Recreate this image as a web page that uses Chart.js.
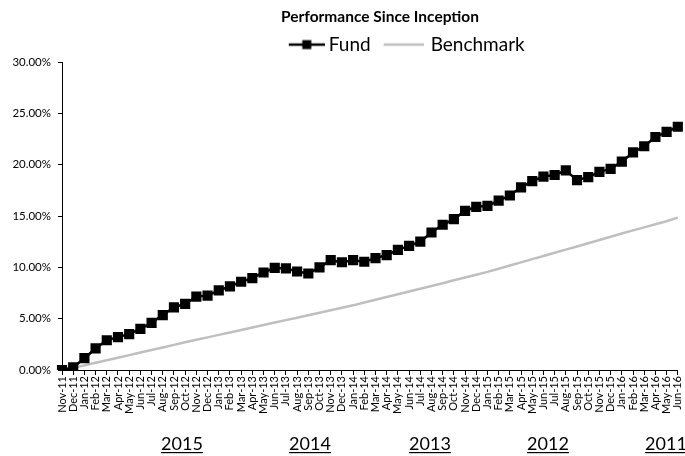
<!DOCTYPE html>
<html>
<head>
<meta charset="utf-8">
<script src="https://cdn.jsdelivr.net/npm/chart.js@4/dist/chart.umd.min.js"></script>
<style>
  html, body { margin: 0; padding: 0; background: #fff; overflow: hidden; }
  #wrap { position: relative; width: 685px; height: 456px; }
</style>
</head>
<body>
<div id="wrap"><canvas id="c"></canvas></div>
<script>
// ---- data ----
const categories = [
  'Nov-11','Dec-11',
  'Jan-12','Feb-12','Mar-12','Apr-12','May-12','Jun-12','Jul-12','Aug-12','Sep-12','Oct-12','Nov-12','Dec-12',
  'Jan-13','Feb-13','Mar-13','Apr-13','May-13','Jun-13','Jul-13','Aug-13','Sep-13','Oct-13','Nov-13','Dec-13',
  'Jan-14','Feb-14','Mar-14','Apr-14','May-14','Jun-14','Jul-14','Aug-14','Sep-14','Oct-14','Nov-14','Dec-14',
  'Jan-15','Feb-15','Mar-15','Apr-15','May-15','Jun-15','Jul-15','Aug-15','Sep-15','Oct-15','Nov-15','Dec-15',
  'Jan-16','Feb-16','Mar-16','Apr-16','May-16','Jun-16'
];
const fundValues = [
  0.00, 0.25,
  1.15, 2.10, 2.90, 3.20, 3.50, 4.00, 4.60, 5.35, 6.10, 6.45, 7.15, 7.25,
  7.75, 8.15, 8.60, 8.95, 9.50, 9.95, 9.90, 9.60, 9.40, 10.00, 10.70, 10.50,
  10.70, 10.55, 10.90, 11.20, 11.70, 12.10, 12.50, 13.40, 14.15, 14.70, 15.50, 15.90,
  16.00, 16.50, 17.00, 17.80, 18.40, 18.85, 19.00, 19.45, 18.50, 18.80, 19.30, 19.60,
  20.30, 21.20, 21.80, 22.70, 23.20, 23.70
];
const benchmarkValues = [
  0.00, 0.22,
  0.45, 0.70, 0.95, 1.20, 1.45, 1.70, 1.95, 2.20, 2.45, 2.70, 2.95, 3.18,
  3.42, 3.66, 3.90, 4.14, 4.38, 4.62, 4.86, 5.10, 5.34, 5.58, 5.82, 6.06,
  6.30, 6.57, 6.84, 7.11, 7.38, 7.65, 7.92, 8.19, 8.46, 8.74, 9.01, 9.28,
  9.56, 9.87, 10.18, 10.49, 10.80, 11.11, 11.42, 11.73, 12.04, 12.35, 12.66, 12.98,
  13.30, 13.60, 13.90, 14.20, 14.50, 14.85
];
const yTicks = [0, 5, 10, 15, 20, 25, 30];
const yearLabels = ['2015', '2014', '2013', '2012', '2011'];
const seriesNames = ['Fund', 'Benchmark'];
const chartTitle = 'Performance Since Inception';

// ---- styling helpers ----
const FONT = 'Lato, "Open Sans", sans-serif';
const FUND_COLOR = '#000000';
const BENCH_COLOR = '#BFBFBF';
const LEGEND_BOX_W = 44;

// legend symbol images (drawn centred on a LEGEND_BOX_W wide box)
function legendImage(w, lineFrom, color, withMarker) {
  const h = 14;
  const c = document.createElement('canvas');
  c.width = w; c.height = h;
  const g = c.getContext('2d');
  g.strokeStyle = color;
  g.lineWidth = 2.5;
  g.beginPath();
  g.moveTo(lineFrom, h / 2);
  g.lineTo(w, h / 2);
  g.stroke();
  if (withMarker) {
    g.fillStyle = color;
    const cx = (lineFrom + w) / 2;
    g.fillRect(cx - 4.5, h / 2 - 4.5, 9, 9);
  }
  return c;
}
const fundLegendImg = legendImage(55, 19, FUND_COLOR, true);
const benchLegendImg = legendImage(49, 9, BENCH_COLOR, false);

// shift title / legend (reference chart is cropped on the right)
const TITLE_CENTER = 380;
const TITLE_DY = 1;
const LEGEND_CENTER = 400;
const LEGEND_DY = 2;
const shiftPlugin = {
  id: 'shiftHeader',
  afterLayout(chart) {
    const t = chart.titleBlock;
    if (t) {
      const dx = TITLE_CENTER - (t.left + t.right) / 2;
      t.left += dx; t.right += dx;
      t.top += TITLE_DY; t.bottom += TITLE_DY;
    }
    const l = chart.legend;
    if (l) {
      const dx = LEGEND_CENTER - (l.left + l.right) / 2;
      l.left += dx; l.right += dx;
      l.top += LEGEND_DY; l.bottom += LEGEND_DY;
    }
  }
};

// year labels under the axis
const YEAR_X = [182, 310, 430, 548, 666];
const yearPlugin = {
  id: 'yearLabels',
  afterDraw(chart) {
    const ctx = chart.ctx;
    ctx.save();
    ctx.font = '18px ' + FONT;
    ctx.fillStyle = '#000';
    ctx.textAlign = 'center';
    ctx.textBaseline = 'alphabetic';
    const baseY = 450;
    yearLabels.forEach((txt, i) => {
      const x = YEAR_X[i];
      ctx.fillText(txt, x, baseY);
      const w = ctx.measureText(txt).width;
      ctx.fillRect(x - w / 2, baseY + 2, w, 1.2);
    });
    ctx.restore();
  }
};

new Chart(document.getElementById('c'), {
  type: 'line',
  data: {
    labels: categories,
    datasets: [
      {
        label: seriesNames[0],
        data: fundValues,
        borderColor: FUND_COLOR,
        backgroundColor: FUND_COLOR,
        borderWidth: 2.5,
        pointStyle: 'rect',
        pointRadius: 7.2,
        pointBorderWidth: 0,
        pointBackgroundColor: FUND_COLOR,
        tension: 0,
        order: 1
      },
      {
        label: seriesNames[1],
        data: benchmarkValues,
        borderColor: BENCH_COLOR,
        backgroundColor: BENCH_COLOR,
        borderWidth: 2.5,
        pointRadius: 0,
        tension: 0,
        order: 2
      }
    ]
  },
  options: {
    responsive: true,
    maintainAspectRatio: false,
    animation: false,
    devicePixelRatio: 1,
    layout: { padding: { left: 0, right: 0, top: 0, bottom: 41 } },
    plugins: {
      title: {
        display: true,
        text: chartTitle,
        color: '#000',
        font: { family: FONT, size: 15.5, weight: 'bold' },
        padding: { top: 7, bottom: 1 }
      },
      legend: {
        display: true,
        position: 'top',
        labels: {
          color: '#000',
          font: { family: FONT, size: 19 },
          usePointStyle: true,
          pointStyleWidth: LEGEND_BOX_W,
          padding: 6.5,
          generateLabels(chart) {
            const items = Chart.defaults.plugins.legend.labels.generateLabels(chart);
            items[0].pointStyle = fundLegendImg;
            items[1].pointStyle = benchLegendImg;
            return items;
          }
        }
      },
      tooltip: { enabled: false }
    },
    scales: {
      x: {
        type: 'category',
        offset: false,
        grid: { display: true, drawOnChartArea: false, drawTicks: true, tickLength: 5, color: '#000', lineWidth: 1 },
        border: { display: true, color: '#000', width: 1 },
        ticks: {
          autoSkip: false,
          maxRotation: 90,
          minRotation: 90,
          padding: 1,
          color: '#000',
          font: { family: FONT, size: 11 }
        },
        afterFit(scale) {
          scale.height = 45;
          scale.paddingRight = 5;
          scale.paddingLeft = 0;
        }
      },
      y: {
        min: 0,
        max: 30,
        afterBuildTicks(scale) { scale.ticks = yTicks.map(v => ({ value: v })); },
        grid: { display: true, drawOnChartArea: false, drawTicks: true, tickLength: 4, color: '#000', lineWidth: 1 },
        border: { display: true, color: '#000', width: 1 },
        ticks: {
          padding: 7,
          color: '#000',
          font: { family: FONT, size: 11.5 },
          callback: v => Number(v).toFixed(2) + '%'
        },
        afterFit(scale) { scale.width = 62; }
      }
    }
  },
  plugins: [shiftPlugin, yearPlugin]
});
</script>
</body>
</html>
